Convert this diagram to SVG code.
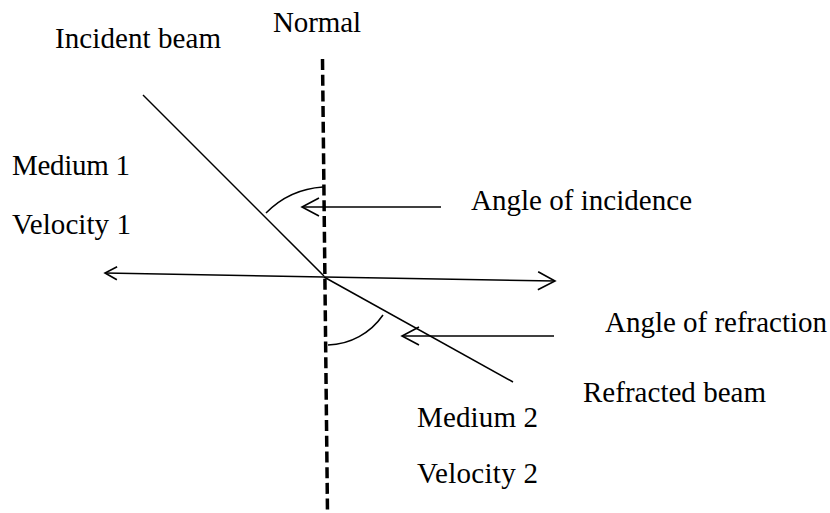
<svg xmlns="http://www.w3.org/2000/svg" width="830" height="513" viewBox="0 0 830 513">
<style>
text{font-family:"Liberation Serif","Times New Roman",serif;font-size:29px;fill:#000}
.ln{stroke:#000;stroke-width:1.5;fill:none}
.normal{stroke:#000;stroke-width:3.5;stroke-dasharray:11 4.7;fill:none}
</style>
<defs>
<marker id="ah" markerUnits="userSpaceOnUse" markerWidth="22" markerHeight="22" refX="19" refY="10" orient="auto">
<polyline points="2,1 19,10 2,19" fill="none" stroke="#000" stroke-width="1.6"/>
</marker>
<marker id="ahs" markerUnits="userSpaceOnUse" markerWidth="16" markerHeight="16" refX="14" refY="8" orient="auto">
<polyline points="2,1.5 14,8 2,14.5" fill="none" stroke="#000" stroke-width="1.6"/>
</marker>
</defs>
<rect width="830" height="513" fill="#fff"/>
<g id="connectors">
<line id="normal-line" class="normal" x1="322.5" y1="59" x2="327.5" y2="513"/>
<line id="incident" class="ln" x1="143" y1="95" x2="324" y2="276"/>
<line id="refracted" class="ln" x1="324" y1="277" x2="513" y2="382"/>
<line id="interface-left" class="ln" x1="324" y1="277" x2="105" y2="273" marker-end="url(#ahs)"/>
<line id="interface-right" class="ln" x1="324" y1="277" x2="555" y2="281" marker-end="url(#ah)"/>
<path id="arc-incidence" class="ln" d="M266,213 A88,88 0 0 1 323,187"/>
<path id="arc-refraction" class="ln" d="M383,315 A69,69 0 0 1 328,345"/>
<line id="ptr-incidence" class="ln" x1="441" y1="207" x2="302" y2="207" marker-end="url(#ah)"/>
<line id="ptr-refraction" class="ln" x1="554" y1="336" x2="402" y2="336" marker-end="url(#ah)"/>
</g>
<g id="label-incident"><text x="55" y="48" textLength="166">Incident beam</text></g>
<g id="label-normal"><text x="273" y="32" textLength="88">Normal</text></g>
<g id="label-medium1"><text x="12" y="175" textLength="118">Medium 1</text></g>
<g id="label-velocity1"><text x="12" y="234" textLength="119">Velocity 1</text></g>
<g id="label-angle-incidence"><text x="471" y="210" textLength="221">Angle of incidence</text></g>
<g id="label-angle-refraction"><text x="605" y="332" textLength="222">Angle of refraction</text></g>
<g id="label-refracted"><text x="583" y="402" textLength="183">Refracted beam</text></g>
<g id="label-medium2"><text x="417" y="427" textLength="121">Medium 2</text></g>
<g id="label-velocity2"><text x="417" y="483" textLength="121">Velocity 2</text></g>
</svg>
